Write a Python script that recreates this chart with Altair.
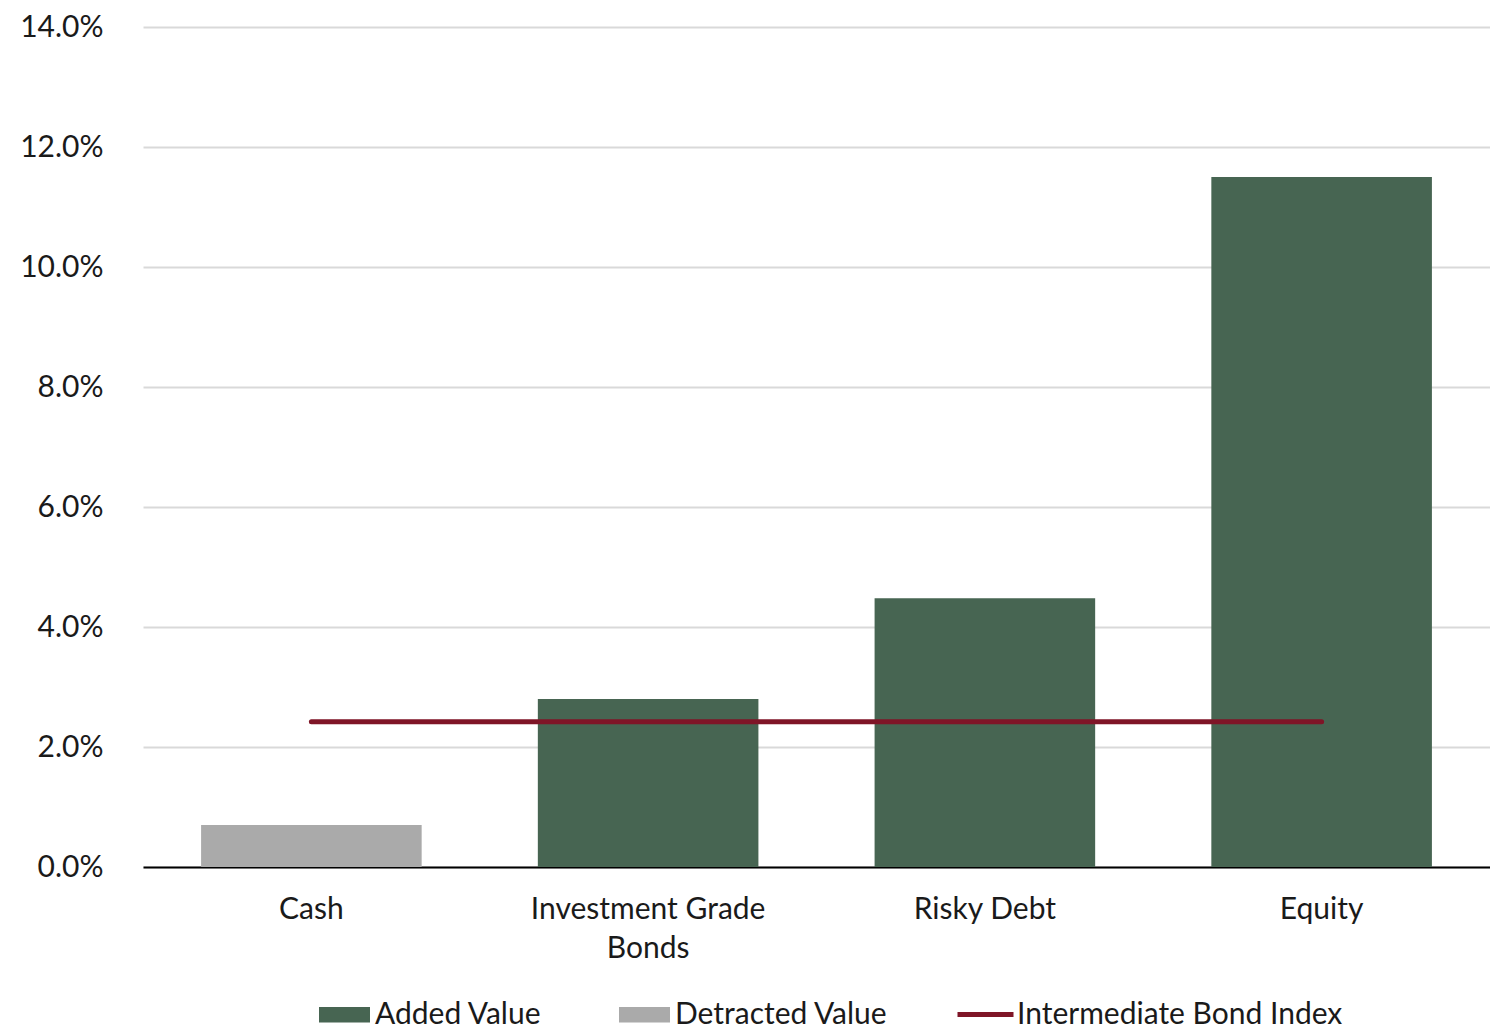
import altair as alt
import pandas as pd

categories = ["Cash", "Investment Grade Bonds", "Risky Debt", "Equity"]
returns = [0.0070, 0.0280, 0.0448, 0.1150]
value_type = ["Detracted Value", "Added Value", "Added Value", "Added Value"]
index_return = [0.0242, 0.0242, 0.0242, 0.0242]
index_name = "Intermediate Bond Index"

type_domain = ["Added Value", "Detracted Value"]
type_colors = ["#476552", "#aaaaaa"]
line_color = "#7f1527"

FONT = "Lato"
TXT = "#1a1a1a"
FS = 30

bars_df = pd.DataFrame({"category": categories, "ret": returns, "type": value_type})
line_df = pd.DataFrame({"category": categories, "ret": index_return,
                        "series": [index_name] * len(categories)})

x_scale = alt.Scale(paddingInner=0.345, paddingOuter=0.1725)
x_enc = alt.X(
    "category:N",
    sort=categories,
    title=None,
    scale=x_scale,
    axis=alt.Axis(
        labelAngle=0,
        labelFontSize=FS,
        labelFont=FONT,
        labelColor=TXT,
        labelPadding=27,
        labelLineHeight=39,
        labelLimit=0,
        labelExpr="datum.value == 'Investment Grade Bonds' ? ['Investment Grade', 'Bonds'] : datum.value",
        ticks=False,
        domain=True,
        domainColor="#000000",
        domainWidth=2,
        grid=False,
    ),
)

y_scale = alt.Scale(domain=[0, 0.14], nice=False)
y_axis = alt.Axis(
    values=[0, 0.02, 0.04, 0.06, 0.08, 0.10, 0.12, 0.14],
    format=".1%",
    labelFontSize=FS,
    labelFont=FONT,
    labelColor=TXT,
    labelPadding=40,
    labelLimit=0,
    ticks=False,
    domain=False,
    grid=True,
    gridColor="#d9d9d9",
    gridWidth=2,
    minExtent=135,
)

bars = alt.Chart(bars_df).mark_bar().encode(
    x=x_enc,
    y=alt.Y("ret:Q", scale=y_scale, axis=y_axis, title=None),
    color=alt.Color(
        "type:N",
        scale=alt.Scale(domain=type_domain, range=type_colors),
        legend=alt.Legend(
            title=None,
            orient="none",
            legendX=176,
            legendY=962,
            direction="horizontal",
            symbolType="M-1,-0.3H1V0.3H-1Z",
            symbolSize=2601,
            symbolStrokeWidth=0,
            labelFontSize=FS,
            labelFont=FONT,
            labelColor=TXT,
            labelOffset=5,
            labelLimit=0,
            columnPadding=77,
            padding=0,
        ),
    ),
)

line = alt.Chart(line_df).mark_line(strokeWidth=5, strokeCap="round").encode(
    x=alt.X("category:N", sort=categories, scale=x_scale),
    y=alt.Y("ret:Q", scale=y_scale),
    stroke=alt.Stroke(
        "series:N",
        scale=alt.Scale(domain=[index_name], range=[line_color]),
        legend=alt.Legend(
            title=None,
            orient="none",
            legendX=812,
            legendY=957,
            direction="horizontal",
            symbolType="stroke",
            symbolSize=3136,
            symbolStrokeWidth=5,
            labelFontSize=FS,
            labelFont=FONT,
            labelColor=TXT,
            labelOffset=1,
            labelLimit=0,
            padding=0,
        ),
    ),
)

chart = (
    alt.layer(bars, line)
    .properties(width=1347, height=840,
                padding={"top": 4, "left": 0, "right": 0, "bottom": 0})
    .configure(font=FONT)
    .configure_view(stroke=None)
)

chart.save("out.html", embed_options={"renderer": "svg", "actions": False})
